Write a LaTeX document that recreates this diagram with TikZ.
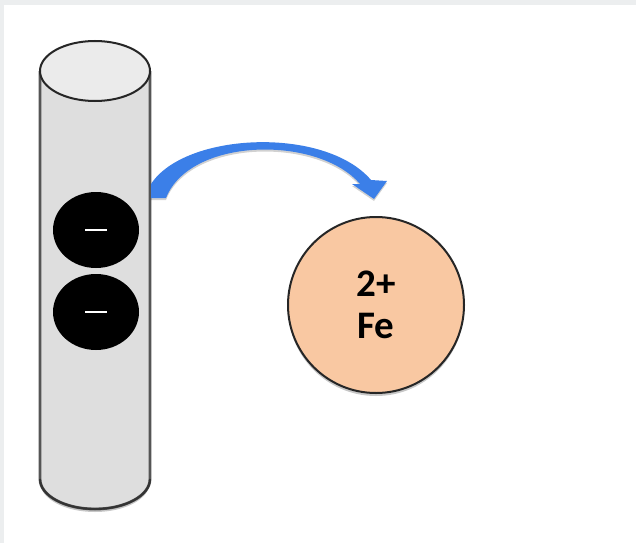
\documentclass[tikz,border=0pt]{standalone}
\usepackage{fontspec}
\setmainfont{Carlito}
\usetikzlibrary{shadows,shapes.geometric}
\definecolor{rodbody}{HTML}{DEDEDE}
\definecolor{rodtop}{HTML}{EBEBEB}
\definecolor{rodedge}{HTML}{555555}
\definecolor{ionfill}{HTML}{F9C8A2}
\definecolor{arrowblue}{HTML}{3B7FE8}
\definecolor{frameband}{HTML}{ECEEEF}
\tikzset{
  softshadow/.style={drop shadow={shadow xshift=0pt, shadow yshift=-3pt, opacity=0.22, fill=black}},
  electron/.style={ellipse, fill=black, minimum width=86pt, minimum height=76pt, inner sep=0pt},
  ion/.style={circle, draw=black!85, line width=2pt, fill=ionfill, minimum size=176pt,
    inner sep=0pt, align=center, font=\fontsize{39}{42}\selectfont\bfseries},
  minusbar/.style={fill=white, minimum width=22pt, minimum height=2.6pt, inner sep=0pt}
}
\begin{document}
\begin{tikzpicture}[x=1pt,y=-1pt]
  % canvas and thin frame band
  \fill[white] (0,0) rectangle (636,543);
  \useasboundingbox (0,0) rectangle (636,543);
  \fill[frameband] (0,0) rectangle (636,5);
  \fill[frameband] (0,0) rectangle (4,543);

  % electrode rod (cylinder)
  \path[softshadow, fill=rodbody] (40,71) -- (40,479) arc[start angle=180, end angle=0, x radius=55, y radius=30] -- (150,71) -- cycle;
  \draw[rodedge, line width=2.8pt, fill=rodbody] (40,71) -- (40,479) arc[start angle=180, end angle=0, x radius=55, y radius=30] -- (150,71);
  \draw[black!80, line width=2pt] (40,479) arc[start angle=180, end angle=0, x radius=55, y radius=30];
  \draw[black!85, line width=2pt, fill=rodtop] (95,71) ellipse[x radius=55, y radius=30];

  % electrons on the rod
  \node[electron] (e1) at (96,230) {};
  \node[electron] (e2) at (96,312) {};
  \node[minusbar] (m1) at (e1.center) {};
  \node[minusbar] (m2) at (e2.center) {};

  % iron ion
  \node[ion, softshadow] (fe) at (376,305) {2+\\Fe};

  % electron transfer arrow
  \fill[arrowblue, drop shadow={shadow xshift=0pt, shadow yshift=-2pt, opacity=0.18, fill=black}]
    (151,184) .. controls (185,132) and (325,126) .. (371,180)
    -- (387,181) -- (374,199) -- (352,184) -- (360,184)
    .. controls (318,135) and (190,137) .. (166,198)
    -- (151,198) -- cycle;
\end{tikzpicture}
\end{document}
